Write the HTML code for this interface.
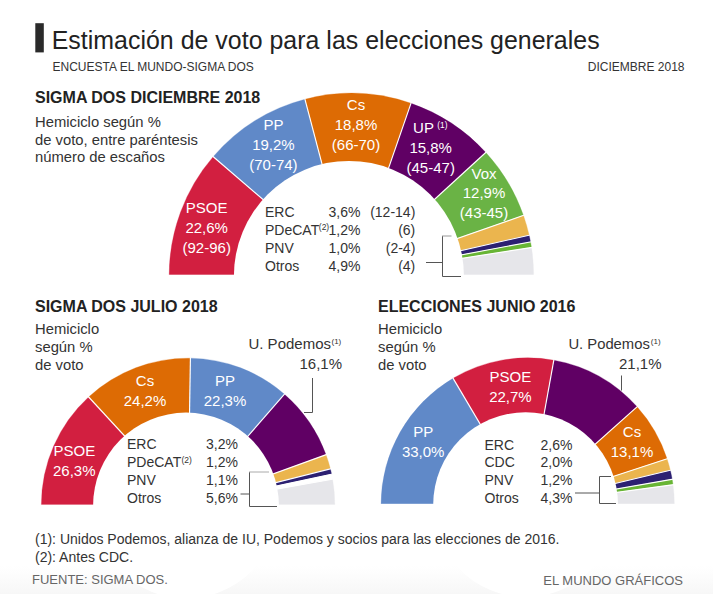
<!DOCTYPE html>
<html><head><meta charset="utf-8"><style>
html,body{margin:0;padding:0;background:#fff;}
body{width:713px;height:594px;overflow:hidden;position:relative;}
svg{position:absolute;left:0;top:0;font-family:"Liberation Sans", sans-serif;}
</style></head><body>
<svg width="713" height="594" viewBox="0 0 713 594">
<defs><linearGradient id="g" x1="0" y1="0" x2="0" y2="1"><stop offset="0" stop-color="#ffffff"/><stop offset="1" stop-color="#f7f7f7"/></linearGradient></defs>
<rect x="0" y="566" width="713" height="28" fill="url(#g)"/>
<rect x="35.3" y="23.2" width="8.5" height="29.2" fill="#2a2a2a"/>
<text x="51.7" y="48.6" font-size="24.9" fill="#222" text-anchor="start" font-weight="400" letter-spacing="0.03">Estimación de voto para las elecciones generales</text>
<text x="52.5" y="71" font-size="12" fill="#333" text-anchor="start" font-weight="400" >ENCUESTA EL MUNDO-SIGMA DOS</text>
<text x="684.5" y="71" font-size="12" fill="#333" text-anchor="end" font-weight="400" >DICIEMBRE 2018</text>
<text x="35" y="102.8" font-size="16" fill="#222" text-anchor="start" font-weight="700" >SIGMA DOS DICIEMBRE 2018</text>
<text x="35" y="126.8" font-size="14.8" fill="#333" text-anchor="start" font-weight="400" >Hemiciclo según %</text>
<text x="35" y="144.5" font-size="14.8" fill="#333" text-anchor="start" font-weight="400" >de voto, entre paréntesis</text>
<text x="35" y="162.2" font-size="14.8" fill="#333" text-anchor="start" font-weight="400" >número de escaños</text>
<path d="M351.40,275.50 L169.15,275.50 A182.25,182.25 0 0 1 213.19,156.70 Z" fill="#d21f40" stroke="#d21f40" stroke-width="0.3"/>
<path d="M351.40,275.50 L213.19,156.70 A182.25,182.25 0 0 1 304.97,99.26 Z" fill="#6089c8" stroke="#6089c8" stroke-width="0.3"/>
<path d="M351.40,275.50 L304.97,99.26 A182.25,182.25 0 0 1 410.98,103.26 Z" fill="#dd6b04" stroke="#dd6b04" stroke-width="0.3"/>
<path d="M351.40,275.50 L410.98,103.26 A182.25,182.25 0 0 1 485.81,152.42 Z" fill="#600064" stroke="#600064" stroke-width="0.3"/>
<path d="M351.40,275.50 L485.81,152.42 A182.25,182.25 0 0 1 523.45,215.38 Z" fill="#6ab345" stroke="#6ab345" stroke-width="0.3"/>
<path d="M351.40,275.50 L523.45,215.38 A182.25,182.25 0 0 1 529.14,235.18 Z" fill="#ebb54e" stroke="#ebb54e" stroke-width="0.3"/>
<path d="M351.40,275.50 L529.14,235.18 A182.25,182.25 0 0 1 530.53,241.91 Z" fill="#2c2072" stroke="#2c2072" stroke-width="0.3"/>
<path d="M351.40,275.50 L530.53,241.91 A182.25,182.25 0 0 1 531.49,247.56 Z" fill="#68b535" stroke="#68b535" stroke-width="0.3"/>
<path d="M351.40,275.50 L531.49,247.56 A182.25,182.25 0 0 1 533.65,275.50 Z" fill="#e6e6ea" stroke="#e6e6ea" stroke-width="0.3"/>
<line x1="351.40" y1="275.50" x2="212.43" y2="156.05" stroke="#fff" stroke-width="1.15"/>
<line x1="351.40" y1="275.50" x2="304.71" y2="98.30" stroke="#fff" stroke-width="1.15"/>
<line x1="351.40" y1="275.50" x2="411.30" y2="102.32" stroke="#fff" stroke-width="1.15"/>
<line x1="351.40" y1="275.50" x2="486.55" y2="151.75" stroke="#fff" stroke-width="1.15"/>
<line x1="351.40" y1="275.50" x2="524.39" y2="215.05" stroke="#fff" stroke-width="1.15"/>
<line x1="351.40" y1="275.50" x2="530.11" y2="234.96" stroke="#fff" stroke-width="1.15"/>
<line x1="351.40" y1="275.50" x2="531.51" y2="241.73" stroke="#fff" stroke-width="1.15"/>
<line x1="351.40" y1="275.50" x2="532.48" y2="247.40" stroke="#fff" stroke-width="1.15"/>
<circle cx="348.9" cy="275.9" r="115.0" fill="#fff"/>
<rect x="166.15" y="274.7" width="370.50" height="4" fill="#fff"/>
<text x="206.7" y="213.2" font-size="15" fill="#ffffff" text-anchor="middle" font-weight="400" >PSOE</text>
<text x="206.7" y="232.89999999999998" font-size="15" fill="#ffffff" text-anchor="middle" font-weight="400" >22,6%</text>
<text x="206.7" y="252.6" font-size="15" fill="#ffffff" text-anchor="middle" font-weight="400" >(92-96)</text>
<text x="273.4" y="130.0" font-size="15" fill="#ffffff" text-anchor="middle" font-weight="400" >PP</text>
<text x="273.4" y="149.9" font-size="15" fill="#ffffff" text-anchor="middle" font-weight="400" >19,2%</text>
<text x="273.4" y="169.8" font-size="15" fill="#ffffff" text-anchor="middle" font-weight="400" >(70-74)</text>
<text x="356" y="110.3" font-size="15" fill="#ffffff" text-anchor="middle" font-weight="400" >Cs</text>
<text x="356" y="130.1" font-size="15" fill="#ffffff" text-anchor="middle" font-weight="400" >18,8%</text>
<text x="356" y="149.9" font-size="15" fill="#ffffff" text-anchor="middle" font-weight="400" >(66-70)</text>
<text x="423.5" y="133.2" font-size="15" fill="#ffffff" text-anchor="middle" font-weight="400" >UP</text>
<text x="437.2" y="127.6" font-size="8.4" fill="#ffffff" text-anchor="start" font-weight="400" >(1)</text>
<text x="430.7" y="152.6" font-size="15" fill="#ffffff" text-anchor="middle" font-weight="400" >15,8%</text>
<text x="430.7" y="172.6" font-size="15" fill="#ffffff" text-anchor="middle" font-weight="400" >(45-47)</text>
<text x="484" y="178.7" font-size="15" fill="#ffffff" text-anchor="middle" font-weight="400" >Vox</text>
<text x="484" y="198.29999999999998" font-size="15" fill="#ffffff" text-anchor="middle" font-weight="400" >12,9%</text>
<text x="484" y="217.89999999999998" font-size="15" fill="#ffffff" text-anchor="middle" font-weight="400" >(43-45)</text>
<text x="265" y="216.6" font-size="14" fill="#333333" text-anchor="start" font-weight="400" >ERC</text>
<text x="360.5" y="216.6" font-size="14" fill="#333333" text-anchor="end" font-weight="400" >3,6%</text>
<text x="415.3" y="216.6" font-size="14" fill="#333333" text-anchor="end" font-weight="400" >(12-14)</text>
<text x="265" y="234.6" font-size="14" fill="#333333" text-anchor="start" font-weight="400" >PDeCAT</text>
<text x="360.5" y="234.6" font-size="14" fill="#333333" text-anchor="end" font-weight="400" >1,2%</text>
<text x="415.3" y="234.6" font-size="14" fill="#333333" text-anchor="end" font-weight="400" >(6)</text>
<text x="265" y="252.6" font-size="14" fill="#333333" text-anchor="start" font-weight="400" >PNV</text>
<text x="360.5" y="252.6" font-size="14" fill="#333333" text-anchor="end" font-weight="400" >1,0%</text>
<text x="415.3" y="252.6" font-size="14" fill="#333333" text-anchor="end" font-weight="400" >(2-4)</text>
<text x="265" y="270.6" font-size="14" fill="#333333" text-anchor="start" font-weight="400" >Otros</text>
<text x="360.5" y="270.6" font-size="14" fill="#333333" text-anchor="end" font-weight="400" >4,9%</text>
<text x="415.3" y="270.6" font-size="14" fill="#333333" text-anchor="end" font-weight="400" >(4)</text>
<text x="318.8" y="230.3" font-size="8.5" fill="#333" text-anchor="start" font-weight="400" >(2)</text>
<path d="M442.5,236 V276.5 H461" fill="none" stroke="#555" stroke-width="1"/>
<path d="M442,236 H451.5" fill="none" stroke="#999" stroke-width="1"/>
<path d="M426,262.5 H442.5" fill="none" stroke="#555" stroke-width="1"/>
<text x="35" y="312" font-size="16" fill="#222" text-anchor="start" font-weight="700" >SIGMA DOS JULIO 2018</text>
<text x="35" y="333.6" font-size="14.8" fill="#333" text-anchor="start" font-weight="400" >Hemiciclo</text>
<text x="35" y="351.6" font-size="14.8" fill="#333" text-anchor="start" font-weight="400" >según %</text>
<text x="35" y="369.6" font-size="14.8" fill="#333" text-anchor="start" font-weight="400" >de voto</text>
<path d="M188.10,504.90 L41.35,504.90 A146.75,146.75 0 0 1 88.66,396.98 Z" fill="#d21f40" stroke="#d21f40" stroke-width="0.3"/>
<path d="M188.10,504.90 L88.66,396.98 A146.75,146.75 0 0 1 190.41,358.17 Z" fill="#dd6b04" stroke="#dd6b04" stroke-width="0.3"/>
<path d="M188.10,504.90 L190.41,358.17 A146.75,146.75 0 0 1 284.45,394.21 Z" fill="#6089c8" stroke="#6089c8" stroke-width="0.3"/>
<path d="M188.10,504.90 L284.45,394.21 A146.75,146.75 0 0 1 326.02,454.76 Z" fill="#600064" stroke="#600064" stroke-width="0.3"/>
<path d="M188.10,504.90 L326.02,454.76 A146.75,146.75 0 0 1 330.35,468.85 Z" fill="#ebb54e" stroke="#ebb54e" stroke-width="0.3"/>
<path d="M188.10,504.90 L330.35,468.85 A146.75,146.75 0 0 1 331.61,474.24 Z" fill="#2c2072" stroke="#2c2072" stroke-width="0.3"/>
<path d="M188.10,504.90 L331.61,474.24 A146.75,146.75 0 0 1 332.58,479.22 Z" fill="#ffffff" stroke="#ffffff" stroke-width="0.3"/>
<path d="M188.10,504.90 L332.58,479.22 A146.75,146.75 0 0 1 334.85,504.90 Z" fill="#e6e6ea" stroke="#e6e6ea" stroke-width="0.3"/>
<line x1="188.10" y1="504.90" x2="87.98" y2="396.25" stroke="#fff" stroke-width="1.15"/>
<line x1="188.10" y1="504.90" x2="190.42" y2="357.17" stroke="#fff" stroke-width="1.15"/>
<line x1="188.10" y1="504.90" x2="285.11" y2="393.46" stroke="#fff" stroke-width="1.15"/>
<line x1="188.10" y1="504.90" x2="326.96" y2="454.41" stroke="#fff" stroke-width="1.15"/>
<line x1="188.10" y1="504.90" x2="331.32" y2="468.61" stroke="#fff" stroke-width="1.15"/>
<line x1="188.10" y1="504.90" x2="332.59" y2="474.03" stroke="#fff" stroke-width="1.15"/>
<line x1="188.10" y1="504.90" x2="333.57" y2="479.04" stroke="#fff" stroke-width="1.15"/>
<circle cx="186.0" cy="505.5" r="92.9" fill="#fff"/>
<rect x="38.35" y="504.6" width="299.50" height="4" fill="#fff"/>
<text x="74.3" y="455.5" font-size="15" fill="#ffffff" text-anchor="middle" font-weight="400" >PSOE</text>
<text x="74.3" y="475.5" font-size="15" fill="#ffffff" text-anchor="middle" font-weight="400" >26,3%</text>
<text x="145" y="385.6" font-size="15" fill="#ffffff" text-anchor="middle" font-weight="400" >Cs</text>
<text x="145" y="405.6" font-size="15" fill="#ffffff" text-anchor="middle" font-weight="400" >24,2%</text>
<text x="225" y="385.6" font-size="15" fill="#ffffff" text-anchor="middle" font-weight="400" >PP</text>
<text x="225" y="405.6" font-size="15" fill="#ffffff" text-anchor="middle" font-weight="400" >22,3%</text>
<text x="331" y="348.9" font-size="15" fill="#333333" text-anchor="end" font-weight="400" >U. Podemos</text>
<text x="331.5" y="343.8" font-size="8" fill="#333333" text-anchor="start" font-weight="400" >(1)</text>
<text x="342" y="368.6" font-size="15" fill="#333333" text-anchor="end" font-weight="400" >16,1%</text>
<path d="M312.5,378 V412.5 H304" fill="none" stroke="#555" stroke-width="1"/>
<text x="127" y="449.3" font-size="14" fill="#333333" text-anchor="start" font-weight="400" >ERC</text>
<text x="238" y="449.3" font-size="14" fill="#333333" text-anchor="end" font-weight="400" >3,2%</text>
<text x="127" y="467.3" font-size="14" fill="#333333" text-anchor="start" font-weight="400" >PDeCAT</text>
<text x="238" y="467.3" font-size="14" fill="#333333" text-anchor="end" font-weight="400" >1,2%</text>
<text x="127" y="485.3" font-size="14" fill="#333333" text-anchor="start" font-weight="400" >PNV</text>
<text x="238" y="485.3" font-size="14" fill="#333333" text-anchor="end" font-weight="400" >1,1%</text>
<text x="127" y="503.3" font-size="14" fill="#333333" text-anchor="start" font-weight="400" >Otros</text>
<text x="238" y="503.3" font-size="14" fill="#333333" text-anchor="end" font-weight="400" >5,6%</text>
<text x="181.5" y="462.8" font-size="8.5" fill="#333333" text-anchor="start" font-weight="400" >(2)</text>
<path d="M249.5,472 V506.5 H277" fill="none" stroke="#555" stroke-width="1"/>
<path d="M249,472 H269" fill="none" stroke="#aaa" stroke-width="1"/>
<path d="M240.5,494 H249.5" fill="none" stroke="#555" stroke-width="1"/>
<text x="378" y="312" font-size="16" fill="#222" text-anchor="start" font-weight="700" >ELECCIONES JUNIO 2016</text>
<text x="378" y="333.6" font-size="14.8" fill="#333" text-anchor="start" font-weight="400" >Hemiciclo</text>
<text x="378" y="351.6" font-size="14.8" fill="#333" text-anchor="start" font-weight="400" >según %</text>
<text x="378" y="369.6" font-size="14.8" fill="#333" text-anchor="start" font-weight="400" >de voto</text>
<path d="M527.70,504.50 L381.05,504.50 A146.65,146.65 0 0 1 453.05,378.27 Z" fill="#6089c8" stroke="#6089c8" stroke-width="0.3"/>
<path d="M527.70,504.50 L453.05,378.27 A146.65,146.65 0 0 1 553.82,360.19 Z" fill="#d21f40" stroke="#d21f40" stroke-width="0.3"/>
<path d="M527.70,504.50 L553.82,360.19 A146.65,146.65 0 0 1 637.09,406.83 Z" fill="#600064" stroke="#600064" stroke-width="0.3"/>
<path d="M527.70,504.50 L637.09,406.83 A146.65,146.65 0 0 1 667.03,458.74 Z" fill="#dd6b04" stroke="#dd6b04" stroke-width="0.3"/>
<path d="M527.70,504.50 L667.03,458.74 A146.65,146.65 0 0 1 670.30,470.27 Z" fill="#ebb54e" stroke="#ebb54e" stroke-width="0.3"/>
<path d="M527.70,504.50 L670.30,470.27 A146.65,146.65 0 0 1 672.17,479.29 Z" fill="#2c2072" stroke="#2c2072" stroke-width="0.3"/>
<path d="M527.70,504.50 L672.17,479.29 A146.65,146.65 0 0 1 673.01,484.75 Z" fill="#68b535" stroke="#68b535" stroke-width="0.3"/>
<path d="M527.70,504.50 L673.01,484.75 A146.65,146.65 0 0 1 674.35,504.50 Z" fill="#e6e6ea" stroke="#e6e6ea" stroke-width="0.3"/>
<line x1="527.70" y1="504.50" x2="452.54" y2="377.41" stroke="#fff" stroke-width="1.15"/>
<line x1="527.70" y1="504.50" x2="554.00" y2="359.21" stroke="#fff" stroke-width="1.15"/>
<line x1="527.70" y1="504.50" x2="637.84" y2="406.16" stroke="#fff" stroke-width="1.15"/>
<line x1="527.70" y1="504.50" x2="667.98" y2="458.43" stroke="#fff" stroke-width="1.15"/>
<line x1="527.70" y1="504.50" x2="671.27" y2="470.03" stroke="#fff" stroke-width="1.15"/>
<line x1="527.70" y1="504.50" x2="673.15" y2="479.11" stroke="#fff" stroke-width="1.15"/>
<line x1="527.70" y1="504.50" x2="674.00" y2="484.61" stroke="#fff" stroke-width="1.15"/>
<circle cx="525.6" cy="504.7" r="92.4" fill="#fff"/>
<rect x="378.05" y="503.8" width="299.30" height="4" fill="#fff"/>
<text x="423.2" y="437.4" font-size="15" fill="#ffffff" text-anchor="middle" font-weight="400" >PP</text>
<text x="423.2" y="457.09999999999997" font-size="15" fill="#ffffff" text-anchor="middle" font-weight="400" >33,0%</text>
<text x="510.4" y="381.6" font-size="15" fill="#ffffff" text-anchor="middle" font-weight="400" >PSOE</text>
<text x="510.4" y="401.6" font-size="15" fill="#ffffff" text-anchor="middle" font-weight="400" >22,7%</text>
<text x="632" y="437.4" font-size="15" fill="#ffffff" text-anchor="middle" font-weight="400" >Cs</text>
<text x="632" y="457.4" font-size="15" fill="#ffffff" text-anchor="middle" font-weight="400" >13,1%</text>
<text x="649.8" y="349" font-size="14.8" fill="#333333" text-anchor="end" font-weight="400" >U. Podemos</text>
<text x="650.8" y="343.8" font-size="8" fill="#333333" text-anchor="start" font-weight="400" >(1)</text>
<text x="661.5" y="369" font-size="15" fill="#333333" text-anchor="end" font-weight="400" >21,1%</text>
<path d="M621.5,375.5 V390.5" fill="none" stroke="#555" stroke-width="1"/>
<text x="484.5" y="449.5" font-size="14" fill="#333333" text-anchor="start" font-weight="400" >ERC</text>
<text x="572.5" y="449.5" font-size="14" fill="#333333" text-anchor="end" font-weight="400" >2,6%</text>
<text x="484.5" y="467.4" font-size="14" fill="#333333" text-anchor="start" font-weight="400" >CDC</text>
<text x="572.5" y="467.4" font-size="14" fill="#333333" text-anchor="end" font-weight="400" >2,0%</text>
<text x="484.5" y="485.3" font-size="14" fill="#333333" text-anchor="start" font-weight="400" >PNV</text>
<text x="572.5" y="485.3" font-size="14" fill="#333333" text-anchor="end" font-weight="400" >1,2%</text>
<text x="484.5" y="503.2" font-size="14" fill="#333333" text-anchor="start" font-weight="400" >Otros</text>
<text x="572.5" y="503.2" font-size="14" fill="#333333" text-anchor="end" font-weight="400" >4,3%</text>
<path d="M611,476.5 H599.5 V503.5 H616" fill="none" stroke="#555" stroke-width="1"/>
<path d="M575,493 H599.5" fill="none" stroke="#555" stroke-width="1"/>
<text x="35" y="544.0" font-size="14" fill="#333333" text-anchor="start" font-weight="400" >(1): Unidos Podemos, alianza de IU, Podemos y socios para las elecciones de 2016.</text>
<text x="35" y="561.8" font-size="14" fill="#333333" text-anchor="start" font-weight="400" >(2): Antes CDC.</text>
<text x="32" y="584.3" font-size="13" fill="#666" text-anchor="start" font-weight="400" >FUENTE: SIGMA DOS.</text>
<text x="683" y="585" font-size="13" fill="#666" text-anchor="end" font-weight="400" >EL MUNDO GRÁFICOS</text>
</svg></body></html>
